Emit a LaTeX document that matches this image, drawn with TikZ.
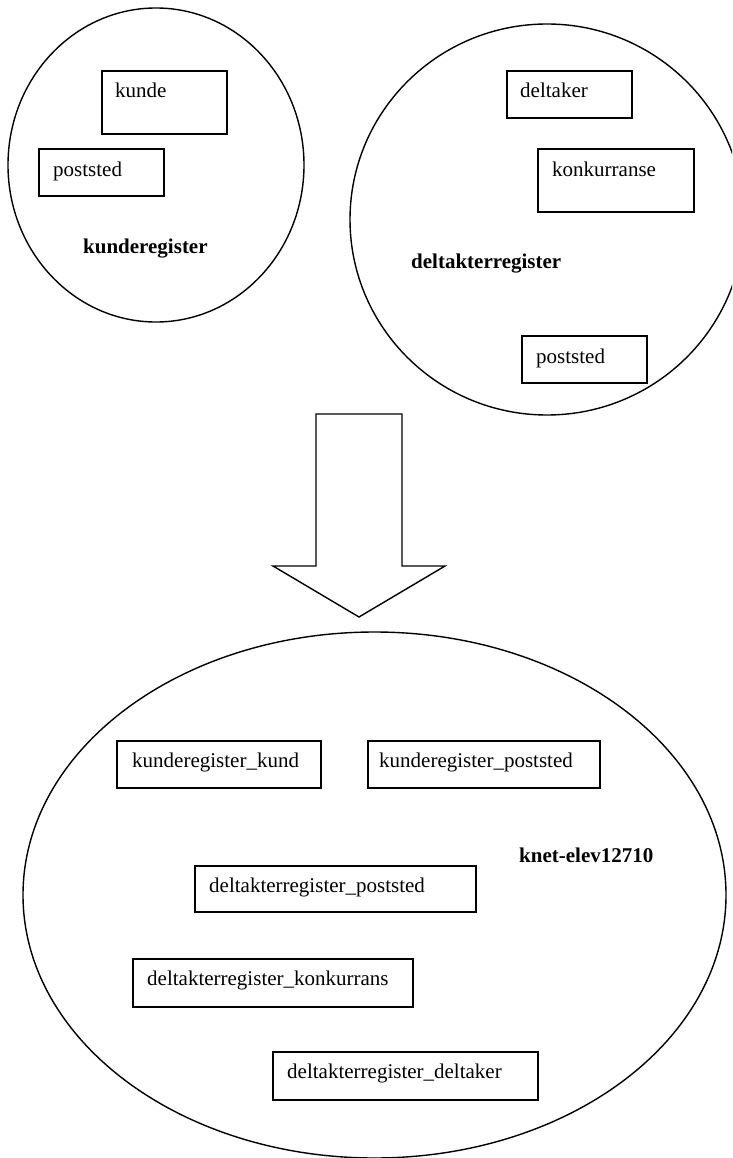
\documentclass[tikz,border=0pt]{standalone}
\usepackage{fontspec}
\setmainfont{Liberation Serif}
\usetikzlibrary{shapes.geometric}
\tikzset{
  outline/.style={draw=black, line width=1.4pt},
  region/.style={outline, ellipse, inner sep=0pt},
  tbox/.style={outline, rectangle, inner sep=0pt},
  txt/.style={anchor=base west, inner sep=0pt, font=\fontsize{21}{25}\selectfont},
  btxt/.style={txt, font=\fontsize{21}{25}\selectfont\bfseries},
}
\begin{document}
\begin{tikzpicture}[x=1pt, y=-1pt]
\useasboundingbox (0,0) rectangle (732,1158);
\clip (0,0) rectangle (732,1158);
% regions
\node[region, minimum width=296pt, minimum height=314pt] (kreg) at (156,165) {};
\node[region, minimum width=394pt, minimum height=391pt] (dreg) at (547,219.5) {};
\node[region, minimum width=703pt, minimum height=526pt] (knet) at (374.5,895) {};
% boxes in kunderegister
\node[tbox, minimum width=125pt, minimum height=63pt] (kunde) at (164.5,102.5) {};
\node[txt] (kundet) at (115,98) {kunde};
\node[tbox, minimum width=125pt, minimum height=47pt] (kpost) at (101.5,172.5) {};
\node[txt] (kpostt) at (53,177) {poststed};
\node[btxt] (kregt) at (83,253) {kunderegister};
% boxes in deltakterregister
\node[tbox, minimum width=125pt, minimum height=47pt] (delt) at (569.5,94.5) {};
\node[txt] (deltt) at (520,98) {deltaker};
\node[tbox, minimum width=156pt, minimum height=63pt] (konk) at (616,180.5) {};
\node[txt] (konkt) at (552,177) {konkurranse};
\node[btxt] (dregt) at (411,268) {deltakterregister};
\node[tbox, minimum width=125pt, minimum height=47pt] (dpost) at (584.5,359.5) {};
\node[txt] (dpostt) at (536,363) {poststed};
% arrow
\draw[outline, line join=miter] (316,414) -- (402,414) -- (402,566) -- (445,566)
  -- (359,617) -- (273,566) -- (316,566) -- cycle;
% boxes in knet-elev12710
\node[tbox, minimum width=204pt, minimum height=47pt] (kk) at (219,764.5) {};
\node[txt] (kkt) at (132,767) {kunderegister\_kund};
\node[tbox, minimum width=232pt, minimum height=47pt] (kp) at (484,764.5) {};
\node[txt] (kpt) at (379,767) {kunderegister\_poststed};
\node[btxt] (knett) at (519,862) {knet-elev12710};
\node[tbox, minimum width=281pt, minimum height=46pt] (dp) at (335.5,889) {};
\node[txt] (dpt) at (209,892) {deltakterregister\_poststed};
\node[tbox, minimum width=280pt, minimum height=48pt] (dk) at (273,983) {};
\node[txt] (dkt) at (147,985) {deltakterregister\_konkurrans};
\node[tbox, minimum width=265pt, minimum height=48pt] (dd) at (405.5,1076) {};
\node[txt] (ddt) at (287,1078) {deltakterregister\_deltaker};
\end{tikzpicture}
\end{document}
